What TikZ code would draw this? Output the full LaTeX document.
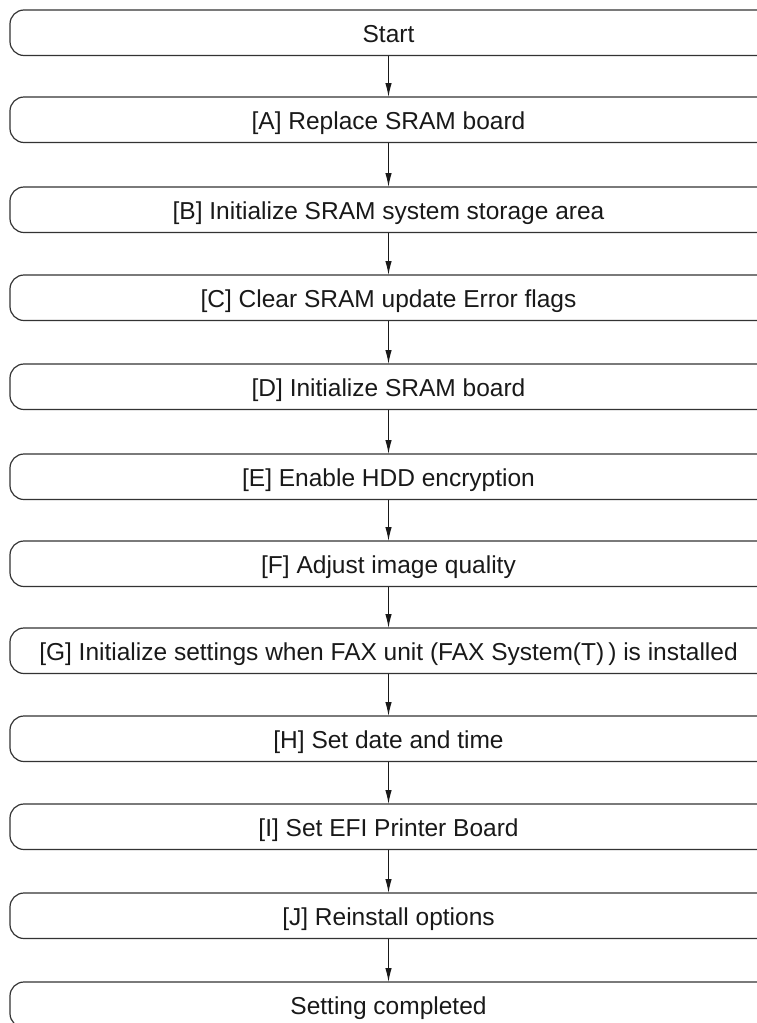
\documentclass[tikz,border=0pt]{standalone}
\usepackage{fontspec}
\setmainfont{Liberation Sans}
\usetikzlibrary{arrows.meta}
\begin{document}
\begin{tikzpicture}[x=1pt,y=-1pt,
  stepbox/.style={minimum width=757pt, minimum height=45.5pt, inner sep=0pt, outer sep=0pt,
    text height=17.6pt, text depth=0pt, text=black!90,
    font=\fontsize{24.5}{29}\selectfont},
  boxline/.style={draw=black!80, line width=1.2pt, rounded corners=14pt},
  flow/.style={draw=black!90, line width=1.1pt, -{Latex[length=14pt,width=6.5pt]}}]
\useasboundingbox (0,0) rectangle (757,1023);
\clip (0,0) rectangle (757,1023);
\node[stepbox] (n0) at (388.5,33.5) {Start};
\node[stepbox] (n1) at (388.5,120.5) {[A] Replace SRAM board};
\node[stepbox] (n2) at (388.5,210.5) {[B] Initialize SRAM system storage area};
\node[stepbox] (n3) at (388.5,298.5) {[C] Clear SRAM update Error flags};
\node[stepbox] (n4) at (388.5,387.5) {[D] Initialize SRAM board};
\node[stepbox] (n5) at (388.5,477.5) {[E] Enable HDD encryption};
\node[stepbox] (n6) at (388.5,564.5) {[F] Adjust image quality};
\node[stepbox] (n7) at (388.5,651.5) {[G] Initialize settings when FAX unit (FAX System(T)\,) is installed};
\node[stepbox] (n8) at (388.5,739.5) {[H] Set date and time};
\node[stepbox] (n9) at (388.5,827.5) {[I] Set EFI Printer Board};
\node[stepbox] (n10) at (388.5,916.5) {[J] Reinstall options};
\node[stepbox] (n11) at (388.5,1005.5) {Setting completed};
\foreach \n/\dy in {n0/0,n1/0,n2/0,n3/0,n4/0,n5/0,n6/0,n7/0,n8/0,n9/0,n10/0,n11/0}
  \draw[boxline] ([yshift=0.75pt]\n.south west) rectangle ([xshift=10pt,yshift=0.75pt]\n.north east);
\foreach \a/\b in {n0/n1,n1/n2,n2/n3,n3/n4,n4/n5,n5/n6,n6/n7,n7/n8,n8/n9,n9/n10,n10/n11}
  \draw[flow] ([yshift=0.75pt]\a.south) -- ([yshift=0.75pt]\b.north);
\end{tikzpicture}
\end{document}
